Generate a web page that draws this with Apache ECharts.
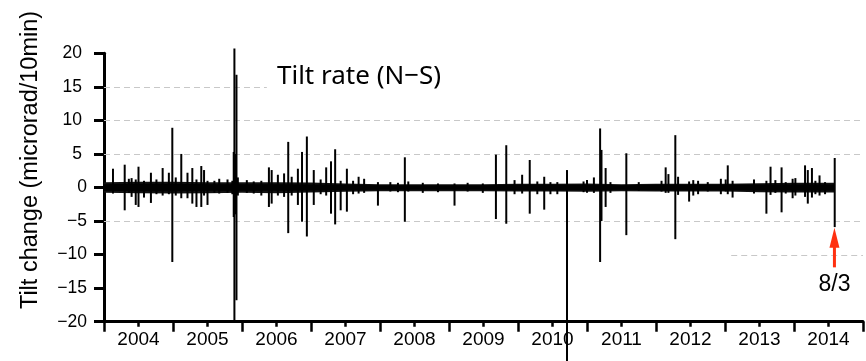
<!DOCTYPE html>
<html><head><meta charset="utf-8">
<script src="https://cdn.jsdelivr.net/npm/echarts@6/dist/echarts.min.js"></script>
<style>html,body{margin:0;padding:0;background:#fff}#c{width:866px;height:361px}</style>
</head><body><div id="c"></div>
<script>
// ---- tick labels ----
const xTickLabels = ['2004','2005','2006','2007','2008','2009','2010','2011','2012','2013','2014'];
const yTickValues = [-20,-15,-10,-5,0,5,10,15,20];
const yTickLabels = ['−20','−15','−10','−5','0','5','10','15','20'];

// ---- spikes: time (decimal year), max and min tilt rate (microrad/10min) ----
const spikeYear = [2004.13,2004.30,2004.36,2004.40,2004.46,2004.50,2004.58,2004.68,2004.76,2004.85,2004.94,2004.99,
  2005.04,2005.12,2005.21,2005.28,2005.34,2005.41,2005.45,2005.50,2005.60,2005.67,2005.79,2005.86,2005.88,2005.89,2005.91,2005.92,2005.94,
  2006.07,2006.17,2006.28,2006.39,2006.43,2006.52,2006.61,2006.67,2006.72,2006.81,2006.87,2006.94,
  2007.04,2007.14,2007.22,2007.29,2007.35,2007.43,2007.52,2007.61,2007.69,2007.77,2007.97,
  2008.15,2008.26,2008.36,2008.41,2008.62,2008.84,
  2009.08,2009.27,2009.49,2009.68,2009.83,2009.95,
  2010.06,2010.17,2010.28,2010.38,2010.47,2010.57,2010.71,2010.95,
  2011.00,2011.10,2011.19,2011.21,2011.27,2011.34,2011.57,2011.75,
  2012.08,2012.14,2012.18,2012.28,2012.32,2012.48,2012.54,2012.61,2012.75,2012.94,
  2013.01,2013.04,2013.11,2013.42,2013.60,2013.66,2013.73,2013.82,2013.88,2013.98,
  2014.02,2014.16,2014.20,2014.26,2014.31,2014.37,2014.45,2014.59];
const spikeHigh = [2.8,3.4,1.3,1.4,1.2,3.1,1.0,2.2,1.2,2.9,2.2,8.9,
  1.5,5.0,2.2,2.9,1.2,3.2,2.6,1.0,1.0,1.3,1.2,1.0,5.3,20.7,5.0,16.8,1.5,
  1.1,0.9,1.0,3.0,2.6,1.9,2.1,6.8,1.6,2.8,5.3,7.6,
  2.6,1.2,3.0,3.9,5.7,1.0,2.8,1.0,1.6,1.3,0.8,
  0.8,0.7,4.5,0.9,0.7,0.6,
  0.6,0.7,0.6,4.9,6.3,1.1,
  1.9,4.1,0.9,1.6,0.8,0.8,2.6,0.9,
  1.1,1.5,8.8,5.6,2.9,0.8,5.1,0.8,
  1.0,3.0,2.0,7.8,1.6,0.9,1.1,1.0,0.8,1.3,
  1.2,3.3,1.0,1.2,1.0,3.1,1.1,3.0,0.8,1.3,
  1.4,3.3,2.6,2.9,1.0,1.8,0.8,4.4];
const spikeLow = [-0.9,-3.4,-0.8,-1.4,-2.6,-2.9,-1.5,-2.3,-1.0,-1.2,-1.0,-11.1,
  -1.2,-1.6,-1.6,-2.4,-2.9,-2.9,-1.2,-2.6,-0.8,-0.9,-0.8,-1.0,-4.4,-20.0,-4.0,-16.8,-1.2,
  -0.8,-0.9,-1.2,-2.9,-2.4,-1.2,-1.4,-6.8,-1.2,-2.6,-5.1,-7.3,
  -2.6,-1.0,-1.2,-3.9,-5.5,-3.4,-3.6,-1.0,-0.9,-0.8,-2.7,
  -0.6,-0.7,-5.1,-0.6,-0.8,-0.7,
  -2.7,-0.6,-0.8,-4.7,-5.4,-1.0,
  -0.9,-3.9,-1.0,-3.3,-1.0,-1.0,-32.0,-0.7,
  -0.8,-0.8,-11.1,-5.0,-2.9,-0.8,-7.1,-0.5,
  -0.6,-0.8,-0.8,-7.7,-1.1,-2.1,-1.2,-1.0,-0.6,-1.0,
  -0.6,-1.0,-1.5,-0.9,-3.9,-1.1,-0.8,-3.7,-0.9,-1.6,
  -1.2,-1.4,-2.4,-1.5,-1.0,-1.2,-1.0,-5.9];

// ---- background noise envelope ----
const bandYear  = [2004.0,2004.5,2005.0,2005.5,2006.0,2006.5,2007.0,2007.5,2008.0,2008.5,2009.0,2009.5,2010.0,2010.5,2011.0,2011.5,2012.0,2012.5,2013.0,2013.5,2014.0,2014.59];
const bandHigh  = [0.8,0.85,0.85,0.8,0.8,0.8,0.75,0.6,0.5,0.5,0.5,0.5,0.55,0.55,0.6,0.5,0.55,0.55,0.55,0.65,0.7,0.7];
const bandLow   = [-0.8,-0.85,-0.9,-0.85,-0.8,-0.85,-0.75,-0.65,-0.55,-0.55,-0.55,-0.55,-0.6,-0.6,-0.65,-0.55,-0.6,-0.6,-0.6,-0.7,-0.75,-0.75];
const coreHigh  = [0.5,0.55,0.55,0.5,0.5,0.5,0.45,0.4,0.35,0.35,0.35,0.35,0.4,0.4,0.4,0.35,0.4,0.4,0.4,0.45,0.45,0.45];
const coreLow   = [-0.5,-0.55,-0.55,-0.5,-0.5,-0.5,-0.45,-0.4,-0.35,-0.35,-0.35,-0.35,-0.4,-0.4,-0.4,-0.35,-0.4,-0.4,-0.4,-0.45,-0.45,-0.45];

// ---- dashed reference lines ----
const gridValue = [15,10,5,-5,-10];
const gridFrom  = [2004,2004,2004,2004,2013.09];
const gridTo    = [2006.36,2015,2015,2015,2015];

// ---- event annotation ----
const eventYear = [2014.586];
const eventLabel = ['8/3'];
const arrowTip = [-6.0];
const arrowTail = [-11.9];
const eventLabelValue = [-14.5];

const chart = echarts.init(document.getElementById('c'), null, {renderer:'canvas'});
const FONT = '"Liberation Sans", Arial, sans-serif';

function bandRender(hiArr, loArr, color) {
  return function (params, api) {
    const pts = [];
    for (let i = 0; i < bandYear.length; i++) pts.push(api.coord([bandYear[i], hiArr[i]]));
    for (let i = bandYear.length - 1; i >= 0; i--) pts.push(api.coord([bandYear[i], loArr[i]]));
    return {type:'polygon', shape:{points:pts}, style:{fill:color}};
  };
}

const option = {
  animation: false,
  backgroundColor: '#fff',
  grid: {left: 104, top: 53.3, width: 764, height: 268.4},
  xAxis: [
    {type:'value', min:2004, max:2015, interval:0.5, position:'bottom',
     axisLine:{show:true, onZero:false, lineStyle:{color:'#000', width:3}},
     axisTick:{show:true, length:5, lineStyle:{color:'#000', width:2.5}},
     axisLabel:{show:true, margin:9, fontFamily:FONT, fontSize:19, color:'#000',
       formatter: v => { const r = v - Math.floor(v); if (Math.abs(r-0.5) < 1e-6) { const i = Math.floor(v) - 2004; return xTickLabels[i] || ''; } return ''; }},
     splitLine:{show:false}},
    {type:'value', min:2004, max:2015, interval:1, position:'bottom',
     axisLine:{show:false, onZero:false},
     axisTick:{show:true, length:10, lineStyle:{color:'#000', width:2.5}},
     axisLabel:{show:false}, splitLine:{show:false}}
  ],
  yAxis: {type:'value', min:-20, max:20, interval:5,
    axisLine:{show:true, onZero:false, lineStyle:{color:'#000', width:3}},
    axisTick:{show:true, length:10, lineStyle:{color:'#000', width:3}},
    axisLabel:{margin:17, fontFamily:FONT, fontSize:17.5, color:'#000',
      formatter: v => { const i = yTickValues.indexOf(v); const s = yTickLabels[i]; return v > 0 ? '{p|' + s + '}' : '{n|' + s + '}'; },
      rich:{p:{fontFamily:FONT, fontSize:17.5, color:'#000', padding:[0,5,0,0]}, n:{fontFamily:FONT, fontSize:17.5, color:'#000'}}},
    splitLine:{show:false}},
  graphic: [
    {type:'text', x:31, y:160, rotation:Math.PI/2,
     style:{text:'Tilt change (microrad/10min)', font:'23.5px "Liberation Sans", Arial, sans-serif', fill:'#000', align:'center', verticalAlign:'middle'}},
    {type:'text', x:277, y:77, z:10,
     style:{text:'Tilt rate (N−S)', font:'26px "Noto Sans", sans-serif', fill:'#000', align:'left', verticalAlign:'middle'}}
  ],
  series: [
    {type:'custom', name:'grid', xAxisIndex:0, z:1, clip:false,
     data: gridValue.map((v,i) => [gridFrom[i], gridTo[i], v]),
     renderItem: (params, api) => {
       const a = api.coord([api.value(0), api.value(2)]), b = api.coord([api.value(1), api.value(2)]);
       return {type:'line', shape:{x1:a[0], y1:Math.round(a[1])+0.5, x2:b[0], y2:Math.round(b[1])+0.5}, style:{stroke:'#c8c8c8', lineWidth:1, lineDash:[6,4]}};
     }},
    {type:'custom', name:'bandOuter', xAxisIndex:0, z:2, clip:false, data:[[2004,0]], renderItem: bandRender(bandHigh, bandLow, '#111')},
    {type:'custom', name:'bandCore', xAxisIndex:0, z:3, clip:false, data:[[2004,0]], renderItem: bandRender(coreHigh, coreLow, '#000')},
    {type:'custom', name:'spikes', xAxisIndex:0, z:4, clip:false,
     data: spikeYear.map((t,i) => [t, spikeHigh[i], spikeLow[i]]),
     renderItem: (params, api) => {
       const a = api.coord([api.value(0), api.value(1)]), b = api.coord([api.value(0), api.value(2)]);
       return {type:'line', shape:{x1:a[0], y1:a[1], x2:b[0], y2:b[1]}, style:{stroke:'#000', lineWidth:2}};
     }},
    {type:'custom', name:'event', xAxisIndex:0, z:5, clip:false,
     data: eventYear.map((t,i) => [t, arrowTip[i], arrowTail[i], eventLabelValue[i]]),
     renderItem: (params, api) => {
       const tip = api.coord([api.value(0), api.value(1)]);
       const tail = api.coord([api.value(0), api.value(2)]);
       const lab = api.coord([api.value(0), api.value(3)]);
       const headH = 20, headW = 5;
       return {type:'group', children:[
         {type:'line', shape:{x1:tip[0], y1:tip[1]+headH-2, x2:tail[0], y2:tail[1]}, style:{stroke:'#ff3010', lineWidth:3}},
         {type:'polygon', shape:{points:[[tip[0], tip[1]], [tip[0]-headW, tip[1]+headH], [tip[0]+headW, tip[1]+headH]]}, style:{fill:'#ff3010'}},
         {type:'text', x:lab[0], y:lab[1], style:{text:eventLabel[params.dataIndex], font:'23px "Liberation Sans", Arial, sans-serif', fill:'#000', align:'center', verticalAlign:'middle'}}
       ]};
     }}
  ]
};
chart.setOption(option);
</script></body></html>
